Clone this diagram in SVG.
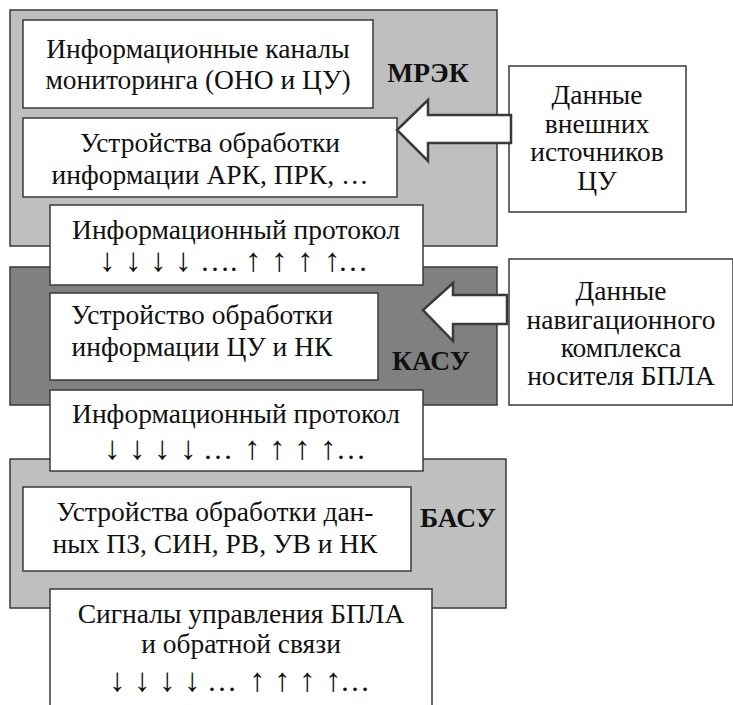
<svg xmlns="http://www.w3.org/2000/svg" width="733" height="705" viewBox="0 0 733 705">
<style>
.blk{stroke:#3a3a3a;stroke-width:1.5}
.box{fill:#fff;stroke:#3a3a3a;stroke-width:1.5}
.arr{fill:#fff;stroke:#3a3a3a;stroke-width:2.5;stroke-linejoin:miter}
</style>
<rect width="733" height="705" fill="#fff"/>
<g font-family="Liberation Serif, Times New Roman, serif" font-size="27.5" fill="#111" text-anchor="middle">
<g id="mrek">
<rect class="blk" x="10" y="10" width="487" height="236" fill="#bfbfbf"/>
<text x="428" y="82" font-weight="bold">МРЭК</text>
</g>
<g id="kasu">
<rect class="blk" x="10" y="267" width="487" height="138" fill="#808080"/>
<text x="431" y="370" font-weight="bold">КАСУ</text>
</g>
<g id="basu">
<rect class="blk" x="10" y="459" width="496" height="149" fill="#bfbfbf"/>
<text x="458" y="527" font-weight="bold">БАСУ</text>
</g>
<g id="channels">
<rect class="box" x="23" y="20" width="350" height="88"/>
<text x="198" y="58">Информационные каналы</text>
<text x="198" y="89">мониторинга (ОНО и ЦУ)</text>
</g>
<g id="ark">
<rect class="box" x="23" y="118" width="374" height="79"/>
<text x="210" y="152">Устройства обработки</text>
<text x="210" y="184">информации АРК, ПРК, …</text>
</g>
<g id="proto1">
<rect class="box" x="50" y="205" width="373" height="80"/>
<text x="236" y="239">Информационный протокол</text>
<text y="271" text-anchor="start" font-size="33"><tspan x="99 125 150 175">↓↓↓↓</tspan><tspan x="200" font-size="30">….</tspan><tspan x="245 271 297 324">↑↑↑↑</tspan><tspan x="338" font-size="30">…</tspan></text>
</g>
<g id="kasu-dev">
<rect class="box" x="50" y="293" width="328" height="87"/>
<text x="202" y="324">Устройство обработки</text>
<text x="202" y="356">информации ЦУ и НК</text>
</g>
<g id="proto2">
<rect class="box" x="50" y="390" width="373" height="81"/>
<text x="236" y="423">Информационный протокол</text>
<text y="459" text-anchor="start" font-size="33"><tspan x="104 129 154 180">↓↓↓↓</tspan><tspan x="203" font-size="30">…</tspan><tspan x="244 269 294 320">↑↑↑↑</tspan><tspan x="336" font-size="30">…</tspan></text>
</g>
<g id="basu-dev">
<rect class="box" x="23" y="487" width="388" height="84"/>
<text x="215" y="521">Устройства обработки дан-</text>
<text x="215" y="553">ных ПЗ, СИН, РВ, УВ и НК</text>
</g>
<g id="signals">
<rect class="box" x="50" y="589" width="382" height="120"/>
<text x="241" y="623">Сигналы управления БПЛА</text>
<text x="241" y="653">и обратной связи</text>
<text y="691" text-anchor="start" font-size="33"><tspan x="109 134 159 184">↓↓↓↓</tspan><tspan x="207" font-size="30">…</tspan><tspan x="249 274 299 325">↑↑↑↑</tspan><tspan x="340" font-size="30">…</tspan></text>
</g>
<g id="ext">
<rect class="box" x="509" y="66" width="177" height="146"/>
<text x="597" y="104">Данные</text>
<text x="597" y="133">внешних</text>
<text x="597" y="161">источников</text>
<text x="597" y="190">ЦУ</text>
</g>
<g id="nav">
<rect class="box" x="509" y="259" width="224" height="146"/>
<text x="621" y="300">Данные</text>
<text x="621" y="329">навигационного</text>
<text x="621" y="357">комплекса</text>
<text x="621" y="385">носителя БПЛА</text>
</g>
</g>
<g id="connectors">
<polygon class="arr" points="511,115 428,115 428,100 397,130 428,161 428,143 511,143"/>
<polygon class="arr" points="507,295 453,295 453,283 423,310 453,341 453,324 507,324"/>
</g>
</svg>
